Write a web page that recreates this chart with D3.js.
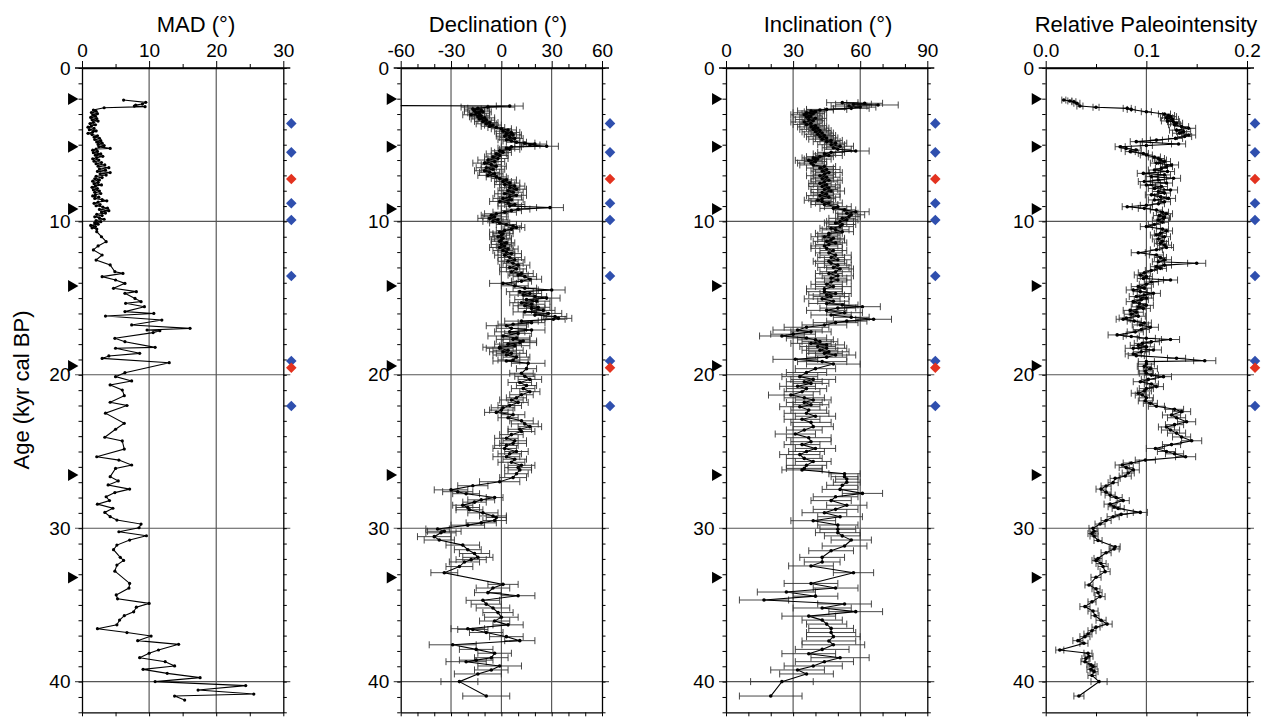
<!DOCTYPE html>
<html>
<head>
<meta charset="utf-8">
<script src="https://cdn.jsdelivr.net/npm/d3@7"></script>
<style>
  body { margin: 0; background: #fff; }
  svg { display: block; font-family: "Liberation Sans", Arial, Helvetica, sans-serif; }
</style>
</head>
<body>
<svg id="chart" width="1262" height="717"></svg>
<script>
// ---- data: [age kyr, value] / [age kyr, value, error] ----
const madData = [
  [2.09,6.2],[2.24,9.5],[2.35,9.0],[2.42,8.0],[2.48,7.8],[2.52,9.4],[2.59,3.3],
  [2.74,1.7],[2.82,2.1],[2.9,1.4],[2.98,2.3],[3.06,1.6],[3.14,2.0],[3.22,1.3],[3.3,2.2],[3.38,1.5],
  [3.46,2.4],[3.54,1.7],[3.62,1.2],[3.7,2.0],[3.78,1.4],[3.86,0.9],[3.94,1.8],[4.02,1.1],[4.1,2.1],
  [4.18,1.6],[4.26,0.9],[4.34,1.5],[4.42,2.3],[4.5,1.8],[4.58,2.6],[4.66,1.9],[4.74,2.8],[4.82,2.2],
  [4.9,3.0],[4.98,2.4],[5.06,3.3],[5.14,2.5],[5.24,4.2],[5.28,2.1],[5.36,1.6],[5.44,2.3],[5.52,1.7],
  [5.6,2.8],[5.68,2.0],[5.76,3.1],[5.84,2.2],[5.92,1.6],[6.0,2.5],[6.08,1.8],[6.16,2.9],[6.24,2.1],
  [6.32,3.4],[6.4,2.4],[6.5,4.0],[6.58,2.6],[6.66,3.5],[6.74,2.3],[6.82,4.2],[6.9,2.7],[6.98,3.6],
  [7.06,2.1],[7.14,3.0],[7.22,1.9],[7.3,2.6],[7.38,1.6],[7.46,2.4],[7.54,1.8],[7.62,2.9],[7.7,2.0],
  [7.78,1.5],[7.86,2.3],[7.94,1.7],[8.02,2.6],[8.1,1.9],[8.18,2.8],[8.26,2.0],[8.34,1.6],[8.42,2.5],
  [8.5,1.9],[8.58,3.0],[8.66,3.7],[8.74,2.4],[8.82,1.8],[8.9,2.7],[8.98,2.1],[9.06,3.1],[9.14,3.8],
  [9.22,2.6],[9.3,4.0],[9.38,2.9],[9.46,3.5],[9.54,2.2],[9.62,3.0],[9.7,1.9],[9.78,2.6],[9.86,3.3],
  [9.94,2.1],[10.02,2.8],[10.1,1.9],[10.18,2.4],[10.26,1.3],[10.34,2.0],[10.42,1.5],[10.5,2.2],
  [10.67,2.2],[11.0,2.9],[11.32,3.6],[11.6,2.4],[11.86,1.7],[12.19,3.0],[12.52,2.1],[12.84,4.2],
  [13.28,4.9],[13.39,6.1],[13.6,3.0],[13.82,5.0],[14.04,6.4],[14.36,4.7],[14.58,8.1],[14.69,6.4],
  [15.02,7.9],[15.23,8.8],[15.34,6.5],[15.56,9.3],[15.88,6.4],[16.0,10.7],[16.17,3.5],[16.43,11.9],
  [16.75,7.4],[16.97,16.1],[17.08,9.7],[17.12,11.6],[17.25,10.6],[17.62,4.9],[17.84,6.4],[18.21,10.9],
  [18.27,5.0],[18.6,8.6],[18.77,4.0],[18.93,3.0],[19.21,13.0],[19.86,6.4],[20.12,5.0],[20.4,7.4],
  [20.66,4.2],[20.99,6.0],[21.36,6.3],[21.79,4.2],[22.0,6.7],[22.5,3.5],[23.16,6.3],[23.55,5.0],
  [24.07,3.4],[24.31,6.0],[24.84,6.3],[25.34,2.2],[25.56,5.5],[25.88,7.4],[26.1,5.0],[26.64,4.2],
  [26.92,5.4],[27.18,3.9],[27.45,7.1],[27.68,4.9],[27.95,3.6],[28.2,4.1],[28.43,2.3],[28.7,4.6],
  [28.97,3.4],[29.25,4.2],[29.47,5.2],[29.73,8.8],[29.97,8.5],[30.23,5.5],[30.49,9.6],[30.77,7.1],
  [31.1,5.2],[31.4,4.7],[31.9,5.7],[32.1,6.2],[32.4,5.2],[32.8,4.9],[33.6,7.1],[33.9,7.0],
  [34.35,5.1],[34.6,5.3],[34.9,10.0],[35.15,8.1],[35.45,7.7],[35.7,6.3],[35.99,5.6],[36.3,5.2],
  [36.55,2.3],[36.8,6.7],[37.03,10.3],[37.33,8.3],[37.57,14.4],[37.94,11.4],[38.15,10.0],[38.44,8.6],
  [38.7,12.4],[38.98,13.8],[39.2,9.1],[39.46,12.7],[39.74,17.6],[40.0,10.9],[40.26,24.4],[40.55,17.3],
  [40.81,25.6],[40.94,13.8],[41.2,15.3]
];

const decData = [
  [2.44,-95,8],[2.48,5,8],[2.55,-8,16],[2.62,-14,6],[2.68,-17,5],[2.74,-12,5],[2.8,-16,6],[2.86,-11,5],
  [2.92,-15,5],[2.98,-13,6],[3.05,-18,5],[3.12,-12,5],[3.18,-14,5],[3.25,-10,6],[3.32,-13,5],[3.4,-9,5],
  [3.48,-11,5],[3.56,-7,5],[3.64,-9,6],[3.72,-5,5],[3.8,-7,5],[3.88,-3,5],[3.96,0,6],[4.04,4,5],
  [4.12,1,5],[4.2,6,5],[4.28,3,6],[4.36,7,5],[4.44,2,5],[4.52,5,6],[4.6,8,5],[4.68,3,5],[4.76,6,5],
  [4.84,9,6],[4.9,14,6],[4.96,20,7],[5.02,17,6],[5.1,27,7],[5.14,6,6],[5.22,3,5],[5.3,5,6],[5.4,-1,5],
  [5.5,1,5],[5.6,-3,6],[5.7,-1,5],[5.8,-5,5],[5.9,-2,6],[6.0,-8,6],[6.1,-4,6],[6.2,-10,7],[6.3,-6,6],
  [6.4,-3,6],[6.5,-9,6],[6.6,-5,7],[6.7,-10,6],[6.8,-7,6],[6.9,-4,5],[7.0,-8,6],[7.1,-3,6],[7.2,-1,5],
  [7.3,3,6],[7.4,1,5],[7.5,5,6],[7.6,2,6],[7.7,8,6],[7.8,5,6],[7.9,9,6],[8.0,4,6],[8.1,7,6],[8.2,2,6],
  [8.3,9,6],[8.4,5,7],[8.5,1,6],[8.6,6,7],[8.7,-1,6],[8.8,4,6],[8.9,8,6],[9.0,5,7],[9.1,29,8],
  [9.2,10,7],[9.3,6,6],[9.4,2,7],[9.5,-3,7],[9.6,-6,6],[9.7,-4,7],[9.8,-7,7],[9.9,-2,6],[10.0,-5,6],
  [10.1,-1,6],[10.2,3,6],[10.3,7,5],[10.4,9,5],[10.5,6,5],[10.6,2,5],[10.7,-1,6],[10.8,1,6],[10.9,0,5],
  [11.0,-2,5],[11.1,1,5],[11.2,0,6],[11.3,-1,5],[11.4,3,5],[11.5,0,6],[11.6,2,5],[11.7,-1,6],[11.8,4,6],
  [11.9,1,6],[12.0,3,5],[12.1,6,6],[12.2,2,6],[12.35,5,7],[12.5,8,6],[12.6,4,6],[12.73,7,6],[12.85,10,7],
  [13.0,5,6],[13.1,9,6],[13.28,6,7],[13.4,12,7],[13.5,10,6],[13.6,14,7],[13.77,17,7],[13.9,12,6],
  [14.04,1,8],[14.2,8,8],[14.35,14,7],[14.47,30,8],[14.58,11,8],[14.7,17,7],[14.8,13,8],[14.9,20,7],
  [15.0,27,8],[15.1,15,7],[15.2,21,8],[15.3,12,7],[15.4,18,8],[15.5,14,7],[15.6,22,7],[15.67,18,8],
  [15.8,25,7],[15.9,14,7],[16.0,28,8],[16.1,20,7],[16.2,32,7],[16.32,34,8],[16.38,31,7],[16.5,12,10],
  [16.6,18,8],[16.7,7,9],[16.8,3,12],[16.97,6,9],[17.08,18,8],[17.2,5,9],[17.3,10,8],[17.47,1,9],
  [17.6,9,8],[17.69,7,10],[17.8,13,8],[17.9,11,10],[18.0,4,8],[18.1,8,9],[18.2,-1,10],[18.27,-1,8],
  [18.4,4,9],[18.5,1,8],[18.6,6,9],[18.71,3,8],[18.85,9,8],[19.03,7,9],[19.1,3,8],[19.25,16,10],
  [19.6,15,6],[19.9,12,7],[20.1,14,6],[20.3,17,7],[20.5,11,7],[20.7,15,6],[20.9,13,7],[21.1,17,6],
  [21.3,12,7],[21.5,9,6],[21.64,6,7],[21.8,10,6],[22.0,5,7],[22.15,1,7],[22.3,0,7],[22.45,-3,7],
  [22.6,7,7],[22.8,4,6],[23.0,12,7],[23.2,14,8],[23.38,17,7],[23.55,11,7],[23.7,12,8],[23.9,6,7],
  [24.14,3,7],[24.3,8,7],[24.47,7,8],[24.6,3,7],[24.8,2,7],[25.0,9,7],[25.15,5,7],[25.34,3,8],
  [25.5,8,7],[25.7,6,8],[25.9,12,8],[26.05,10,8],[26.2,11,7],[26.45,9,7],[26.7,7,8],[26.97,-1,12],
  [27.23,-17,9],[27.5,-30,10],[27.62,-26,9],[27.75,-21,8],[28.0,-4,5],[28.15,-12,8],[28.3,-16,7],
  [28.5,-23,6],[28.65,-20,7],[28.8,-19,8],[29.0,-11,9],[29.2,-5,8],[29.3,-3,6],[29.5,-4,7],
  [29.65,-12,9],[29.8,-20,10],[30.05,-38,7],[30.2,-34,10],[30.3,-36,9],[30.55,-40,10],[30.77,-37,9],
  [31.1,-23,10],[31.4,-20,8],[31.65,-16,9],[31.9,-14,9],[32.05,-18,9],[32.2,-22,9],[32.5,-25,8],
  [32.9,-34,8],[33.66,1,9],[33.9,-5,10],[34.2,-8,8],[34.4,10,10],[34.7,-11,10],[34.95,-9,9],
  [35.2,-5,10],[35.5,-2,9],[35.8,0,10],[36.05,-4,9],[36.3,4,9],[36.55,-20,10],[36.6,-17,9],
  [36.8,-9,10],[37.07,3,10],[37.33,11,9],[37.6,-29,14],[37.9,-15,10],[38.15,-4,10],[38.44,-6,10],
  [38.6,-15,10],[38.7,-21,12],[38.98,-1,13],[39.24,-6,10],[39.5,-14,14],[40.0,-25,11],[40.94,-9,14]
];

const incData = [
  [2.26,52,7],[2.3,62,8],[2.36,57,8],[2.41,68,9],[2.48,55,8],[2.55,60,7],[2.63,56,8],[2.7,45,9],
  [2.74,42,6],[2.8,38,6],[2.86,40,5],[2.92,36,6],[2.98,39,5],[3.05,35,6],[3.12,38,5],[3.2,36,6],
  [3.28,40,5],[3.36,37,6],[3.44,39,5],[3.52,35,6],[3.6,38,5],[3.68,36,6],[3.76,40,5],[3.84,38,6],
  [3.92,41,5],[4.0,39,6],[4.08,42,5],[4.16,40,6],[4.24,43,5],[4.32,41,6],[4.4,44,5],[4.48,42,6],
  [4.56,45,5],[4.64,43,6],[4.72,47,5],[4.8,45,6],[4.9,49,5],[5.0,47,6],[5.1,51,6],[5.2,48,5],
  [5.3,50,6],[5.41,58,6],[5.5,47,6],[5.6,44,5],[5.7,46,6],[5.78,42,6],[5.86,39,5],[5.94,41,6],
  [6.02,37,6],[6.1,40,5],[6.2,38,6],[6.32,39,6],[6.42,44,5],[6.52,42,6],[6.62,45,6],[6.72,43,5],
  [6.82,46,6],[6.92,44,5],[7.02,42,6],[7.12,45,6],[7.22,43,5],[7.32,46,6],[7.42,44,6],[7.52,42,5],
  [7.62,45,6],[7.72,43,6],[7.82,46,5],[7.92,44,6],[8.02,47,6],[8.12,43,5],[8.22,45,6],[8.32,42,6],
  [8.42,46,5],[8.52,43,6],[8.62,41,6],[8.71,43,5],[8.8,46,6],[8.9,44,6],[9.04,50,6],[9.15,48,6],
  [9.25,53,5],[9.37,58,6],[9.47,54,5],[9.57,56,6],[9.69,55,5],[9.8,52,6],[9.9,54,5],[10.0,51,6],
  [10.1,49,5],[10.2,52,6],[10.34,51,6],[10.45,47,5],[10.55,49,6],[10.67,52,5],[10.78,46,6],[10.89,46,5],
  [11.0,44,6],[11.1,48,5],[11.2,47,6],[11.3,45,6],[11.4,49,5],[11.5,46,6],[11.6,44,6],[11.76,45,7],
  [11.9,48,6],[12.05,46,6],[12.2,49,7],[12.35,47,6],[12.5,50,6],[12.6,46,7],[12.73,47,7],[12.85,50,6],
  [13.0,48,7],[13.1,51,6],[13.28,49,7],[13.4,46,6],[13.55,50,7],[13.7,47,7],[13.82,50,6],[13.95,47,7],
  [14.1,45,7],[14.25,48,8],[14.4,44,8],[14.58,44,8],[14.7,49,7],[14.8,45,8],[14.9,47,8],[15.05,43,8],
  [15.2,48,7],[15.35,45,8],[15.45,52,7],[15.56,61,8],[15.65,50,8],[15.8,45,9],[15.95,53,8],[16.1,47,9],
  [16.25,56,8],[16.38,66,8],[16.5,54,9],[16.6,49,10],[16.75,44,10],[16.9,36,10],[17.08,32,11],
  [17.2,38,9],[17.35,30,10],[17.47,25,10],[17.6,36,9],[17.72,40,8],[17.84,42,8],[17.95,38,9],
  [18.05,45,8],[18.15,41,8],[18.27,45,9],[18.4,42,8],[18.5,46,9],[18.6,44,8],[18.71,49,9],[18.85,45,9],
  [18.99,31,10],[19.14,43,11],[19.3,48,12],[19.6,40,9],[19.85,36,9],[20.12,33,8],[20.3,39,10],
  [20.45,35,8],[20.56,38,8],[20.75,32,8],[20.9,36,9],[21.1,34,8],[21.32,29,10],[21.5,35,9],
  [21.64,39,8],[21.8,35,8],[21.95,38,8],[22.08,33,9],[22.3,37,8],[22.51,36,10],[22.7,40,9],
  [22.9,34,8],[23.1,38,9],[23.38,39,9],[23.6,35,8],[23.86,31,9],[24.1,37,10],[24.36,38,9],
  [24.55,34,8],[24.8,40,9],[25.0,36,8],[25.2,33,9],[25.45,35,8],[25.65,39,8],[25.9,36,9],[26.1,35,8],
  [26.2,34,9],[26.45,53,7],[26.64,53,6],[26.8,54,5],[27.0,54,6],[27.2,52,7],[27.47,51,8],[27.73,61,9],
  [27.95,49,10],[28.2,47,9],[28.5,54,9],[28.77,49,10],[28.99,44,10],[29.25,51,10],[29.51,39,10],
  [29.79,50,9],[30.07,50,8],[30.29,50,10],[30.5,52,8],[30.77,56,9],[31.16,53,10],[31.47,47,10],
  [31.9,43,10],[32.2,43,8],[32.46,38,10],[32.9,57,9],[33.6,38,12],[33.9,49,10],[34.16,27,13],
  [34.43,40,10],[34.68,17,11],[34.94,53,12],[35.2,43,13],[35.44,58,12],[35.73,37,12],[35.99,43,9],
  [36.25,45,9],[36.53,47,10],[36.8,47,11],[37.07,48,12],[37.35,46,12],[37.6,48,14],[37.9,43,12],
  [38.18,37,12],[38.44,51,13],[38.7,44,13],[38.98,39,13],[39.24,32,12],[39.5,36,12],[40.0,25,14],
  [40.94,20,14]
];

const rpiData = [
  [2.09,0.018,0.002],[2.15,0.024,0.002],[2.2,0.028,0.002],[2.3,0.031,0.003],[2.48,0.034,0.003],
  [2.56,0.05,0.003],[2.63,0.081,0.004],[2.7,0.085,0.004],[2.85,0.1,0.005],[3.0,0.118,0.006],
  [3.1,0.122,0.006],[3.17,0.124,0.006],[3.25,0.12,0.006],[3.35,0.126,0.006],[3.45,0.121,0.006],
  [3.5,0.127,0.006],[3.6,0.13,0.006],[3.7,0.128,0.006],[3.82,0.135,0.007],[3.93,0.142,0.007],
  [4.05,0.13,0.007],[4.15,0.137,0.007],[4.25,0.133,0.007],[4.37,0.142,0.007],[4.47,0.138,0.007],
  [4.59,0.129,0.007],[4.7,0.11,0.006],[4.8,0.09,0.006],[4.95,0.132,0.007],[5.05,0.1,0.006],
  [5.13,0.074,0.005],[5.25,0.08,0.005],[5.35,0.09,0.005],[5.45,0.084,0.005],[5.57,0.097,0.005],
  [5.67,0.1,0.006],[5.8,0.108,0.006],[5.9,0.112,0.006],[6.0,0.114,0.006],[6.1,0.118,0.006],
  [6.2,0.11,0.006],[6.32,0.125,0.007],[6.43,0.12,0.006],[6.55,0.115,0.006],[6.65,0.108,0.006],
  [6.75,0.121,0.007],[6.87,0.097,0.006],[6.97,0.118,0.006],[7.08,0.105,0.006],[7.19,0.127,0.007],
  [7.3,0.112,0.006],[7.4,0.098,0.006],[7.5,0.12,0.006],[7.63,0.1,0.006],[7.73,0.115,0.006],
  [7.85,0.108,0.006],[7.95,0.124,0.007],[8.05,0.112,0.006],[8.15,0.118,0.006],[8.27,0.105,0.006],
  [8.39,0.114,0.006],[8.5,0.122,0.007],[8.6,0.108,0.006],[8.72,0.118,0.006],[8.85,0.112,0.006],
  [8.95,0.1,0.006],[9.04,0.081,0.005],[9.15,0.098,0.006],[9.26,0.11,0.006],[9.4,0.116,0.006],
  [9.5,0.12,0.006],[9.62,0.113,0.006],[9.72,0.118,0.006],[9.8,0.117,0.006],[9.92,0.112,0.006],
  [10.05,0.116,0.006],[10.2,0.108,0.006],[10.34,0.1,0.006],[10.5,0.116,0.006],[10.62,0.12,0.006],
  [10.78,0.114,0.006],[10.89,0.11,0.006],[11.0,0.118,0.006],[11.15,0.112,0.006],[11.3,0.116,0.006],
  [11.43,0.114,0.006],[11.55,0.118,0.007],[11.7,0.12,0.007],[11.85,0.11,0.006],[12.04,0.092,0.007],
  [12.19,0.11,0.007],[12.35,0.114,0.006],[12.5,0.118,0.007],[12.63,0.112,0.006],[12.73,0.15,0.009],
  [12.85,0.118,0.007],[12.95,0.11,0.006],[13.06,0.114,0.006],[13.2,0.105,0.006],[13.35,0.098,0.006],
  [13.49,0.094,0.006],[13.6,0.1,0.006],[13.72,0.097,0.006],[13.82,0.124,0.007],[13.95,0.105,0.007],
  [14.1,0.1,0.007],[14.25,0.092,0.007],[14.35,0.098,0.007],[14.47,0.087,0.007],[14.58,0.094,0.007],
  [14.69,0.107,0.007],[14.8,0.098,0.007],[14.9,0.09,0.007],[15.0,0.1,0.007],[15.1,0.095,0.007],
  [15.23,0.087,0.007],[15.35,0.093,0.007],[15.47,0.1,0.007],[15.57,0.092,0.007],[15.67,0.097,0.007],
  [15.8,0.084,0.007],[15.92,0.09,0.007],[16.05,0.085,0.007],[16.18,0.092,0.007],[16.3,0.08,0.007],
  [16.38,0.077,0.007],[16.5,0.088,0.007],[16.62,0.098,0.007],[16.75,0.094,0.008],[16.9,0.104,0.008],
  [17.05,0.095,0.008],[17.2,0.089,0.008],[17.4,0.071,0.009],[17.5,0.085,0.008],[17.62,0.1,0.009],
  [17.7,0.124,0.009],[17.85,0.105,0.008],[17.95,0.096,0.008],[18.08,0.092,0.008],[18.18,0.1,0.008],
  [18.27,0.087,0.008],[18.38,0.107,0.008],[18.5,0.095,0.008],[18.64,0.087,0.008],[18.75,0.09,0.008],
  [18.92,0.13,0.009],[19.08,0.158,0.011],[19.14,0.1,0.008],[19.3,0.1,0.008],[19.45,0.098,0.007],
  [19.6,0.104,0.007],[19.75,0.099,0.007],[19.9,0.1,0.007],[20.02,0.105,0.007],[20.12,0.117,0.008],
  [20.3,0.102,0.007],[20.45,0.094,0.007],[20.6,0.105,0.007],[20.77,0.11,0.007],[20.9,0.1,0.007],
  [21.05,0.098,0.007],[21.2,0.092,0.007],[21.32,0.096,0.007],[21.5,0.1,0.007],[21.7,0.099,0.007],
  [21.86,0.104,0.007],[22.05,0.11,0.008],[22.25,0.128,0.009],[22.4,0.135,0.009],[22.62,0.125,0.009],
  [22.8,0.13,0.009],[23.06,0.14,0.009],[23.25,0.128,0.009],[23.4,0.12,0.008],[23.6,0.124,0.009],
  [23.8,0.13,0.009],[24.05,0.135,0.009],[24.3,0.145,0.01],[24.55,0.125,0.009],[24.8,0.109,0.009],
  [25.0,0.12,0.009],[25.15,0.128,0.009],[25.34,0.139,0.01],[25.56,0.099,0.01],[25.75,0.085,0.008],
  [25.88,0.076,0.007],[26.05,0.08,0.007],[26.2,0.087,0.006],[26.4,0.082,0.006],[26.6,0.079,0.006],
  [26.75,0.069,0.005],[27.03,0.067,0.005],[27.25,0.06,0.005],[27.45,0.055,0.005],[27.65,0.06,0.005],
  [27.84,0.064,0.005],[28.0,0.07,0.006],[28.2,0.077,0.006],[28.43,0.064,0.006],[28.6,0.068,0.006],
  [28.71,0.072,0.006],[28.97,0.094,0.007],[29.1,0.075,0.006],[29.25,0.067,0.006],[29.5,0.06,0.005],
  [29.73,0.054,0.005],[30.01,0.047,0.004],[30.2,0.048,0.004],[30.35,0.046,0.004],[30.51,0.048,0.004],
  [30.8,0.052,0.004],[31.21,0.069,0.005],[31.35,0.068,0.005],[31.6,0.06,0.005],[31.97,0.052,0.004],
  [32.1,0.05,0.004],[32.3,0.055,0.005],[32.5,0.057,0.005],[32.83,0.059,0.005],[33.2,0.05,0.005],
  [33.7,0.043,0.004],[33.95,0.05,0.004],[34.2,0.052,0.004],[34.46,0.054,0.005],[34.8,0.046,0.004],
  [35.11,0.039,0.005],[35.4,0.047,0.005],[35.7,0.049,0.004],[36.0,0.055,0.005],[36.25,0.061,0.005],
  [36.45,0.05,0.004],[36.68,0.046,0.004],[36.9,0.042,0.004],[37.07,0.039,0.005],[37.33,0.032,0.005],
  [37.5,0.038,0.004],[37.94,0.014,0.004],[38.15,0.042,0.004],[38.35,0.043,0.004],[38.5,0.04,0.004],
  [38.7,0.039,0.004],[38.9,0.045,0.004],[39.02,0.047,0.004],[39.2,0.045,0.004],[39.35,0.048,0.004],
  [39.6,0.046,0.004],[40.0,0.053,0.008],[40.94,0.033,0.005]
];

// tie points (black triangles) and dated levels (diamonds)
const tieAges = [2.02, 5.13, 9.19, 14.21, 19.43, 26.53, 33.22];
const blueAges = [3.61, 5.5, 8.82, 9.91, 13.56, 19.1, 22.03];
const redAges = [7.24, 19.54];

const ageTicks = [0, 10, 20, 30, 40];
const ageMax = 42;

// ---- layout ----
const svg = d3.select("#chart");
const panelW = 201.3;
const y = d3.scaleLinear().domain([0, ageMax]).range([68, 712.3]);
const plain = d => String(d);          // keep ASCII hyphen for negatives
const oneDec = d => d.toFixed(1);

const panels = [
  { title: "MAD (°)", titleX: 196, left: 82, domain: [0, 30], labels: [0, 10, 20, 30], minor: 5,
    grid: [10, 20], data: madData, fmt: plain, err: false, r: 1.6 },
  { title: "Declination (°)", titleX: 498, left: 400.7, domain: [-60, 60], labels: [-60, -30, 0, 30, 60], minor: 10,
    grid: [-30, 0, 30], data: decData, fmt: plain, err: true, r: 1.8 },
  { title: "Inclination (°)", titleX: 828, left: 726, domain: [0, 90], labels: [0, 30, 60, 90], minor: 10,
    grid: [30, 60], data: incData, fmt: plain, err: true, r: 1.8 },
  { title: "Relative Paleointensity", titleX: 1146, left: 1045.7, domain: [0, 0.2], labels: [0, 0.1, 0.2], minor: 0.05,
    grid: [0.1], data: rpiData, fmt: oneDec, err: true, r: 1.8 }
];

const styleAxis = g => {
  g.attr("font-family", null).attr("font-size", 19);
  g.selectAll("text").attr("fill", "#000");
  g.select(".domain").attr("stroke-width", 1.3);
  g.selectAll(".tick line").attr("stroke-width", 1);
};

panels.forEach((p, i) => {
  const x = d3.scaleLinear().domain(p.domain).range([p.left, p.left + panelW]);
  const [x0, x1] = x.range();
  const g = svg.append("g");
  const isMajor = v => p.labels.some(l => Math.abs(l - v) < 1e-9);
  const allTicks = d3.range(p.domain[0], p.domain[1] + p.minor / 2, p.minor);

  // vertical grid
  g.selectAll(".vgrid").data(p.grid).join("line")
    .attr("x1", d => x(d)).attr("x2", d => x(d))
    .attr("y1", y(0)).attr("y2", y(ageMax))
    .attr("stroke", "#222").attr("stroke-width", 0.9);

  // horizontal grid every 10 kyr, running past both frames
  g.selectAll(".hgrid").data(ageTicks).join("line")
    .attr("x1", x0 - 7).attr("x2", x1 + 7)
    .attr("y1", d => y(d)).attr("y2", d => y(d))
    .attr("stroke", d => d === 0 ? "#000" : "#555")
    .attr("stroke-width", d => d === 0 ? 1.3 : 1.1);

  // top axis
  const top = g.append("g").attr("transform", `translate(0,${y(0)})`)
    .call(d3.axisTop(x).tickValues(allTicks).tickSize(4).tickSizeOuter(0).tickPadding(7)
      .tickFormat(d => isMajor(d) ? p.fmt(+d.toFixed(6)) : ""))
    .call(styleAxis);
  top.selectAll(".tick line").attr("y2", d => isMajor(d) ? -7 : -4);

  // bottom axis
  g.append("g").attr("transform", `translate(0,${y(ageMax)})`)
    .call(d3.axisBottom(x).tickValues(allTicks).tickSize(4).tickSizeOuter(0).tickFormat(""))
    .call(styleAxis);

  // left axis with age labels
  g.append("g").attr("transform", `translate(${x0},0)`)
    .call(d3.axisLeft(y).tickValues(d3.range(0, ageMax + 1, 1)).tickSize(3.5).tickSizeOuter(0).tickPadding(8)
      .tickFormat(d => d % 10 === 0 && d <= 40 ? d : ""))
    .call(styleAxis);

  // right axis
  g.append("g").attr("transform", `translate(${x1},0)`)
    .call(d3.axisRight(y).tickValues(d3.range(0, ageMax + 1, 1)).tickSize(3.5).tickSizeOuter(0).tickFormat(""))
    .call(styleAxis);

  // title
  g.append("text")
    .attr("x", p.titleX).attr("y", 32)
    .attr("text-anchor", "middle").attr("font-size", 22)
    .text(p.title);

  // clip region for data
  svg.append("clipPath").attr("id", "clip" + i)
    .append("rect").attr("x", x0).attr("y", y(0)).attr("width", x1 - x0).attr("height", y(ageMax) - y(0));
  const plot = g.append("g").attr("clip-path", `url(#clip${i})`);

  // error bars
  if (p.err) {
    const eb = plot.selectAll(".eb").data(p.data).join("g").attr("stroke", "#333").attr("stroke-width", 0.9);
    eb.append("line")
      .attr("x1", d => x(d[1] - d[2])).attr("x2", d => x(d[1] + d[2]))
      .attr("y1", d => y(d[0])).attr("y2", d => y(d[0]));
    eb.append("line")
      .attr("x1", d => x(d[1] - d[2])).attr("x2", d => x(d[1] - d[2]))
      .attr("y1", d => y(d[0]) - 3.5).attr("y2", d => y(d[0]) + 3.5);
    eb.append("line")
      .attr("x1", d => x(d[1] + d[2])).attr("x2", d => x(d[1] + d[2]))
      .attr("y1", d => y(d[0]) - 3.5).attr("y2", d => y(d[0]) + 3.5);
  }

  // connecting line
  const line = d3.line().x(d => x(d[1])).y(d => y(d[0]));
  plot.append("path").datum(p.data)
    .attr("d", line).attr("fill", "none")
    .attr("stroke", "#000").attr("stroke-width", 1.1);

  // points
  plot.selectAll(".pt").data(p.data).join("circle")
    .attr("cx", d => x(d[1])).attr("cy", d => y(d[0])).attr("r", p.r)
    .attr("fill", "#000");

  // tie-point triangles on the left
  g.selectAll(".tie").data(tieAges).join("path")
    .attr("d", d3.symbol(d3.symbolTriangle, 62))
    .attr("transform", d => `translate(${x0 - 10.5},${y(d)}) rotate(90)`)
    .attr("fill", "#000");

  // diamonds on the right
  g.selectAll(".blue").data(blueAges).join("path")
    .attr("d", d3.symbol(d3.symbolSquare, 56))
    .attr("transform", d => `translate(${x1 + 8},${y(d)}) rotate(45)`)
    .attr("fill", "#2f4fae");
  g.selectAll(".red").data(redAges).join("path")
    .attr("d", d3.symbol(d3.symbolSquare, 56))
    .attr("transform", d => `translate(${x1 + 8},${y(d)}) rotate(45)`)
    .attr("fill", "#e3321f");
});

// y-axis title
svg.append("text")
  .attr("transform", "translate(29,390) rotate(-90)")
  .attr("text-anchor", "middle").attr("font-size", 22)
  .text("Age (kyr cal BP)");
</script>
</body>
</html>
